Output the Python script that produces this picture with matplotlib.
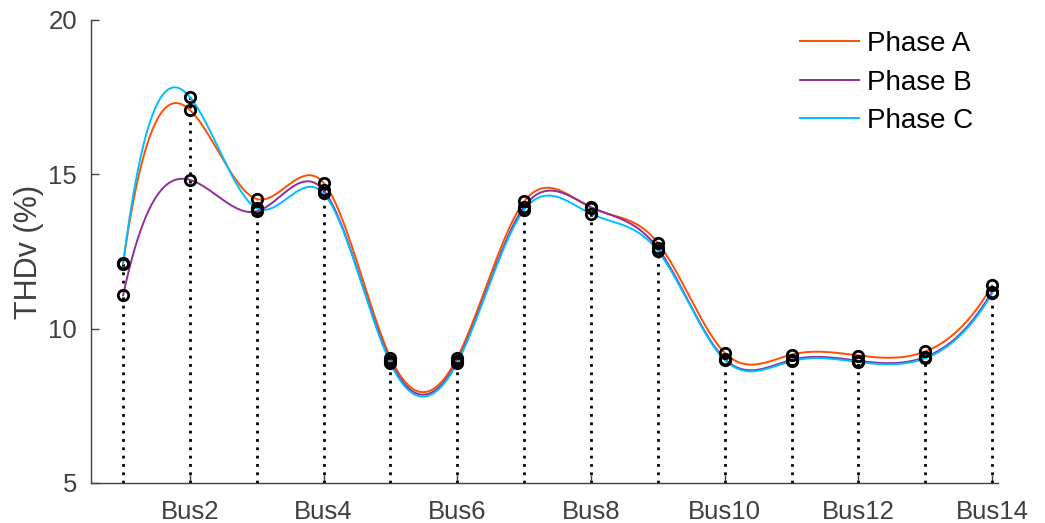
import numpy as np
import matplotlib
matplotlib.use("Agg")
import matplotlib.pyplot as plt

plt.rcParams['font.family'] = ['Liberation Sans', 'DejaVu Sans']

# THDv per bus for each phase
buses = np.arange(1, 15)
bus_labels = ["Bus2", "Bus4", "Bus6", "Bus8", "Bus10", "Bus12", "Bus14"]
bus_ticks = [2, 4, 6, 8, 10, 12, 14]
phase_a = [12.12, 17.08, 14.20, 14.72, 9.06, 9.06, 14.12, 13.92, 12.78, 9.22, 9.16, 9.13, 9.26, 11.40]
phase_b = [11.08, 14.82, 13.80, 14.48, 8.94, 8.95, 13.95, 13.94, 12.60, 9.02, 8.99, 8.96, 9.08, 11.20]
phase_c = [12.10, 17.50, 13.90, 14.38, 8.88, 8.90, 13.85, 13.72, 12.52, 8.99, 8.95, 8.92, 9.04, 11.14]

series = [("Phase A", phase_a, "#ff4f00"),
          ("Phase B", phase_b, "#8e2f9c"),
          ("Phase C", phase_c, "#00bfff")]


def spline_not_a_knot(x, y, xx):
    """Cubic spline interpolation with not-a-knot end conditions."""
    x = np.asarray(x, float)
    y = np.asarray(y, float)
    n = len(x)
    h = np.diff(x)
    A = np.zeros((n, n))
    b = np.zeros(n)
    for i in range(1, n - 1):
        A[i, i - 1] = h[i - 1]
        A[i, i] = 2 * (h[i - 1] + h[i])
        A[i, i + 1] = h[i]
        b[i] = 6 * ((y[i + 1] - y[i]) / h[i] - (y[i] - y[i - 1]) / h[i - 1])
    # continuity of the third derivative at the second and penultimate knots
    A[0, 0] = h[1]
    A[0, 1] = -(h[0] + h[1])
    A[0, 2] = h[0]
    A[-1, -3] = h[-1]
    A[-1, -2] = -(h[-2] + h[-1])
    A[-1, -1] = h[-2]
    M = np.linalg.solve(A, b)
    idx = np.clip(np.searchsorted(x, xx) - 1, 0, n - 2)
    x0, x1 = x[idx], x[idx + 1]
    hi = x1 - x0
    return (M[idx] * (x1 - xx) ** 3 / (6 * hi)
            + M[idx + 1] * (xx - x0) ** 3 / (6 * hi)
            + (y[idx] / hi - M[idx] * hi / 6) * (x1 - xx)
            + (y[idx + 1] / hi - M[idx + 1] * hi / 6) * (xx - x0))


fig = plt.figure(figsize=(10.45, 5.23), dpi=100)
ax = fig.add_axes([0.0871, 0.0765, 0.868, 0.8853])

xx = np.linspace(buses[0], buses[-1], 600)
for name, vals, color in series:
    ax.plot(xx, spline_not_a_knot(buses, vals, xx), color=color, lw=1.4,
            label=name, zorder=3)

# dotted drop lines from the axis floor to the highest phase value
top = np.max([phase_a, phase_b, phase_c], axis=0)
ax.vlines(buses, 5, top, colors="black", linestyles=(0, (1, 2)), lw=2.0, zorder=2)

for _, vals, _ in series:
    ax.plot(buses, vals, linestyle="none", marker="o", ms=7.5, mfc="none",
            mec="black", mew=2.0, zorder=4)

ax.set_xlim(0.52, 14.09)
ax.set_ylim(5, 20)
ax.set_yticks([5, 10, 15, 20])
ax.set_xticks(bus_ticks)
ax.set_xticklabels(bus_labels)
ax.set_ylabel("THDv (%)", fontsize=22, color="#404040", labelpad=3)

for side in ("top", "right"):
    ax.spines[side].set_visible(False)
for side in ("left", "bottom"):
    ax.spines[side].set_color("#404040")
    ax.spines[side].set_linewidth(1.0)
ax.tick_params(axis="both", direction="in", length=6, width=1.0,
               colors="#404040", labelsize=18.5, labelcolor="#404040")
ax.tick_params(axis="x", pad=12)
ax.tick_params(axis="y", pad=10)

leg = ax.legend(loc="upper right", frameon=False, fontsize=20,
                handlelength=2.1, handletextpad=0.3, labelspacing=0.45,
                borderaxespad=0.0, bbox_to_anchor=(0.985, 1.0))

fig.savefig("out.png", dpi=100)
